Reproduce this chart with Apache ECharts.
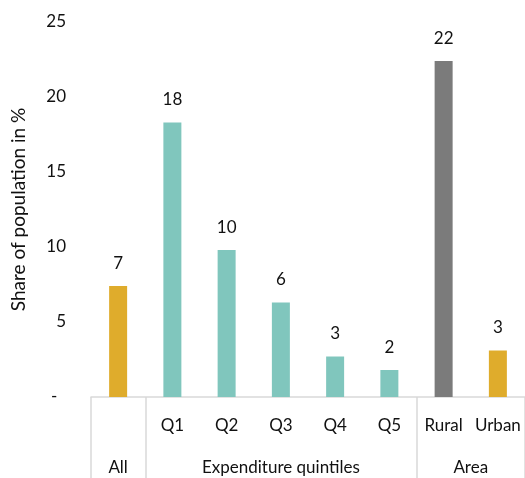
<!DOCTYPE html>
<html>
<head>
<meta charset="utf-8">
<script src="https://cdn.jsdelivr.net/npm/echarts@6/dist/echarts.min.js"></script>
<style>
html,body{margin:0;padding:0;background:#fff;}
#chart{width:525px;height:478px;}
</style>
</head>
<body>
<div id="chart"></div>
<script>
const categories = ['All', 'Q1', 'Q2', 'Q3', 'Q4', 'Q5', 'Rural', 'Urban'];
const values = [7.4, 18.3, 9.8, 6.3, 2.7, 1.8, 22.4, 3.1];
const barKinds = ['total', 'quintile', 'quintile', 'quintile', 'quintile', 'quintile', 'rural', 'total'];
const groupLabels = ['All', 'Expenditure quintiles', 'Area'];
const groupSpans = [1, 5, 2];
const yTicks = { min: 0, max: 25, interval: 5 };
const yAxisTitle = 'Share of population in %';

const kindColor = { total: '#DFAC2C', quintile: '#80C6BD', rural: '#7B7B7B' };
const FONT = 'Lato';
const TXT = '#111';

const boundaries = [];
const singleGroupIdx = [];
const groupCentre = {};
let acc = 0;
groupSpans.forEach((s, i) => {
  boundaries.push(acc);
  if (s === 1) singleGroupIdx.push(acc);
  groupCentre[acc * 2 + s] = groupLabels[i];
  acc += s;
});

const chart = echarts.init(document.getElementById('chart'));
chart.setOption({
  animation: false,
  grid: { left: 91, right: 0, top: 22, bottom: 81, containLabel: false, outerBoundsMode: 'none' },
  xAxis: [
    {
      type: 'category',
      position: 'bottom',
      data: categories,
      axisLine: { show: true, lineStyle: { color: '#D9D9D9', width: 1.5 } },
      axisTick: {
        show: true,
        length: 82,
        interval: (idx) => boundaries.indexOf(idx) >= 0,
        lineStyle: { color: '#D9D9D9', width: 1.5 }
      },
      axisLabel: {
        interval: 0, margin: 20, fontFamily: FONT, fontSize: 17, color: TXT,
        formatter: (v, idx) => singleGroupIdx.indexOf(idx) >= 0 ? '' : v
      }
    },
    {
      type: 'value',
      position: 'bottom',
      min: 0,
      max: categories.length * 2,
      interval: 1,
      axisLine: { show: false },
      axisTick: { show: false },
      splitLine: { show: false },
      axisLabel: {
        margin: 62,
        showMinLabel: true,
        showMaxLabel: true,
        fontFamily: FONT, fontSize: 17, color: TXT,
        formatter: (v) => groupCentre[v] || ''
      }
    }
  ],
  yAxis: {
    type: 'value',
    min: yTicks.min,
    max: yTicks.max,
    interval: yTicks.interval,
    name: yAxisTitle,
    nameLocation: 'middle',
    nameGap: 63,
    nameTextStyle: { fontFamily: FONT, fontSize: 19, color: TXT },
    axisLine: { show: false },
    axisTick: { show: false },
    splitLine: { show: false },
    axisLabel: {
      margin: 25,
      fontFamily: FONT, fontSize: 17, color: TXT,
      formatter: (v) => v === 0 ? '-  ' : String(v)
    }
  },
  series: [{
    type: 'bar',
    xAxisIndex: 0,
    barWidth: 18,
    data: values.map((v, i) => ({ value: v, itemStyle: { color: kindColor[barKinds[i]] } })),
    label: {
      show: true,
      position: 'top',
      distance: 14,
      fontFamily: FONT, fontSize: 17, color: TXT,
      formatter: (p) => Math.round(p.value).toString()
    }
  }]
});
</script>
</body>
</html>
